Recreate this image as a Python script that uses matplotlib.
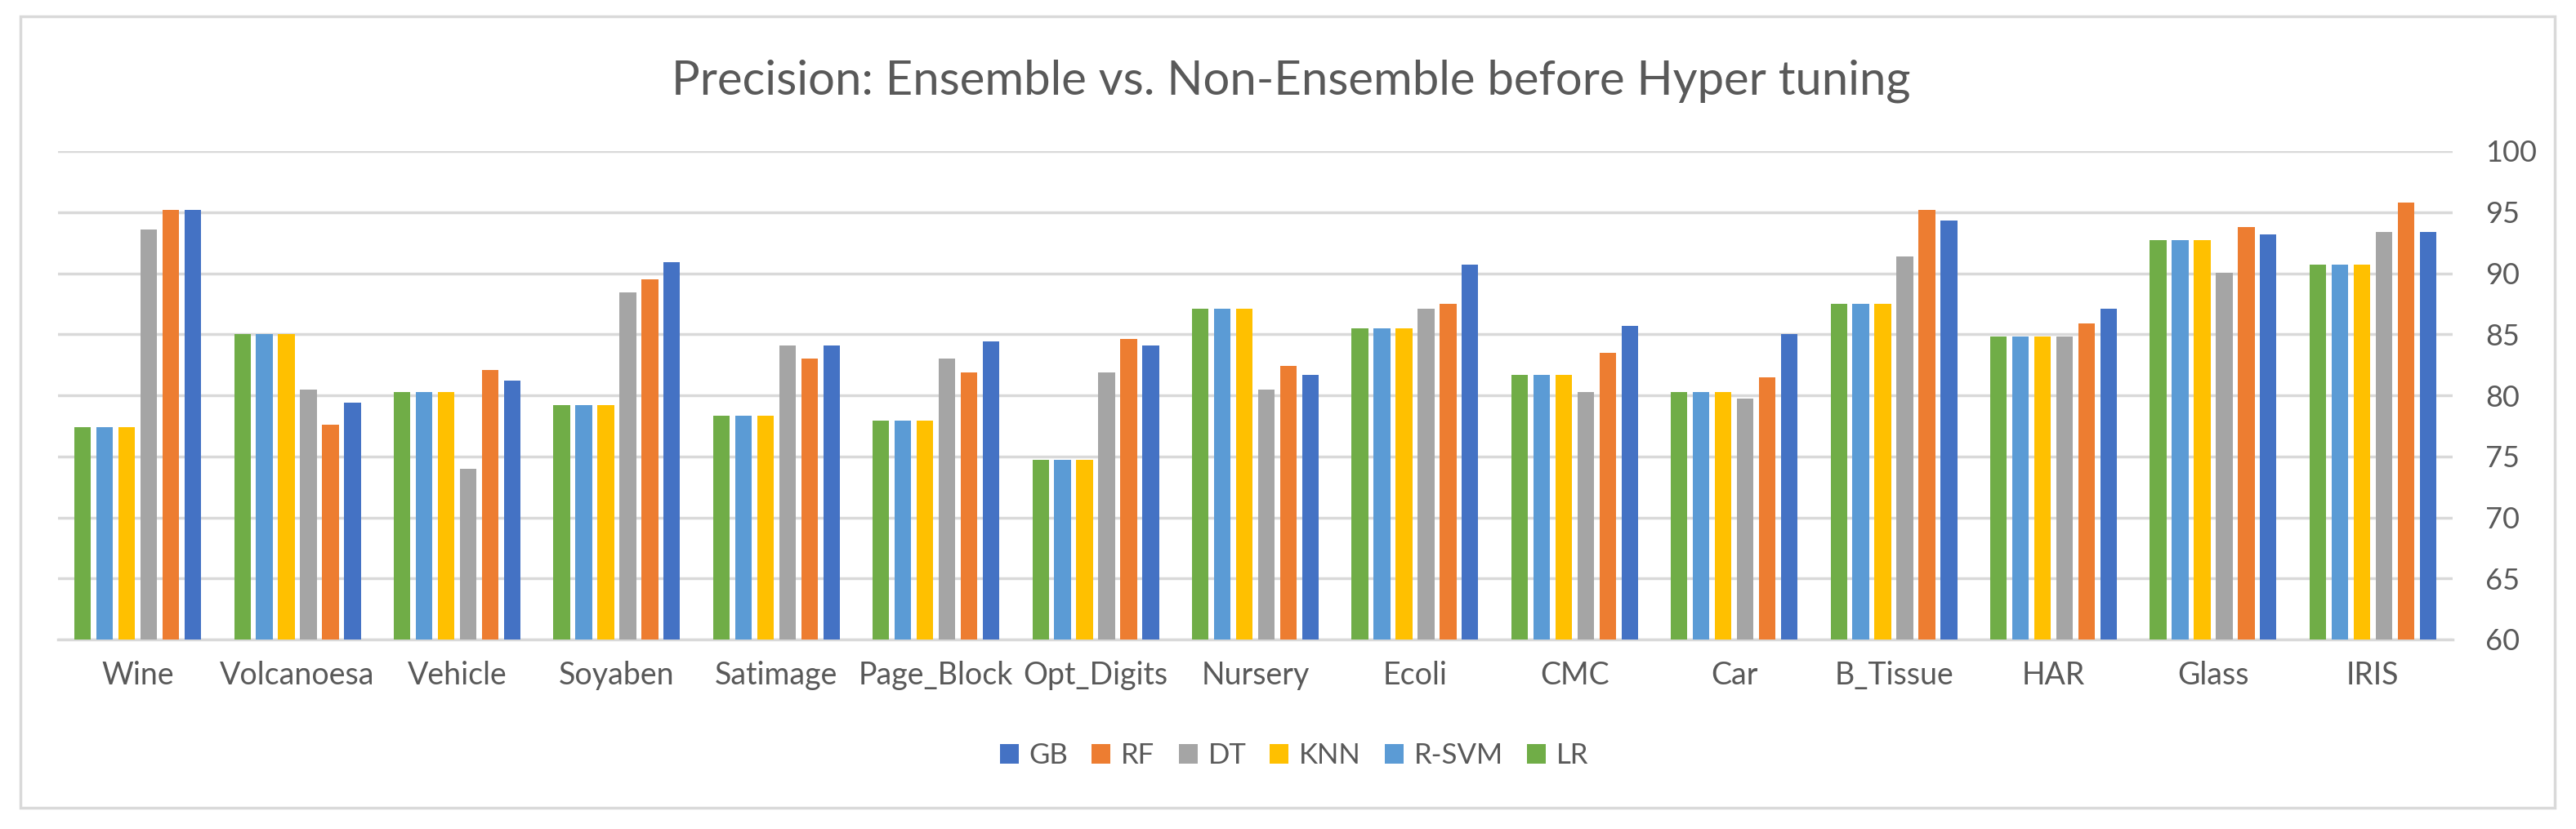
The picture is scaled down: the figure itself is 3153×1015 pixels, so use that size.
import numpy as np
import matplotlib.pyplot as plt
from matplotlib.patches import Rectangle

plt.rcParams["font.family"] = ["Lato", "DejaVu Sans"]

DATASETS = ["Wine", "Volcanoesa", "Vehicle", "Soyaben", "Satimage", "Page_Block",
            "Opt_Digits", "Nursery", "Ecoli", "CMC", "Car", "B_Tissue", "HAR",
            "Glass", "IRIS"]

LR = [77.4, 85.0, 80.3, 79.2, 78.3, 77.9, 74.7, 87.1, 85.5, 81.7, 80.3, 87.5, 84.8, 92.7, 90.7]
R_SVM = [77.4, 85.0, 80.3, 79.2, 78.3, 77.9, 74.7, 87.1, 85.5, 81.7, 80.3, 87.5, 84.8, 92.7, 90.7]
KNN = [77.4, 85.0, 80.3, 79.2, 78.3, 77.9, 74.7, 87.1, 85.5, 81.7, 80.3, 87.5, 84.8, 92.7, 90.7]
DT = [93.6, 80.5, 74.0, 88.4, 84.1, 83.0, 81.9, 80.5, 87.1, 80.3, 79.7, 91.4, 84.8, 90.0, 93.4]
RF = [95.2, 77.6, 82.1, 89.5, 83.0, 81.9, 84.6, 82.4, 87.5, 83.5, 81.5, 95.2, 85.9, 93.8, 95.8]
GB = [95.2, 79.4, 81.2, 90.9, 84.1, 84.4, 84.1, 81.7, 90.7, 85.7, 85.0, 94.3, 87.1, 93.2, 93.4]

SERIES = [("LR", LR, "#70AD47"), ("R-SVM", R_SVM, "#5B9BD5"), ("KNN", KNN, "#FFC000"),
          ("DT", DT, "#A5A5A5"), ("RF", RF, "#ED7D31"), ("GB", GB, "#4472C4")]

W, H = 3153, 1015
fig = plt.figure(figsize=(W / 100, H / 100), dpi=100)
ax = fig.add_axes([71 / W, 1 - 783 / H, (3002 - 71) / W, (783 - 185) / H])

x = np.arange(len(DATASETS))
step = 0.138
bar_w = 0.104
handles = {}
for i, (name, vals, color) in enumerate(SERIES):
    offset = (i - 2.5) * step
    bars = ax.bar(x + offset, np.array(vals) - 60, bottom=60, width=bar_w,
                  color=color, edgecolor="none", zorder=3)
    handles[name] = bars

ax.set_xlim(-0.5, len(DATASETS) - 0.5)
ax.set_ylim(60, 100)
ax.set_yticks(np.arange(60, 101, 5))
ax.yaxis.tick_right()
ax.tick_params(axis="y", length=0, pad=29, labelsize=26, labelcolor="#595959")
ax.tick_params(axis="x", length=0, pad=19, labelsize=27, labelcolor="#595959")
ax.set_xticks(x)
ax.set_xticklabels(DATASETS)
ax.grid(True, axis="y", color="#D9D9D9", linewidth=2.5, zorder=0)
for side in ["left", "right", "top"]:
    ax.spines[side].set_visible(False)
ax.spines["bottom"].set_color("#D9D9D9")
ax.spines["bottom"].set_linewidth(2.5)

fig.text(1580 / W, 1 - 116 / H, "Precision: Ensemble vs. Non-Ensemble before Hyper tuning",
         ha="center", va="baseline", fontsize=41.8, color="#595959")

order = ["GB", "RF", "DT", "KNN", "R-SVM", "LR"]
fig.legend([handles[n] for n in order], order, loc="center",
           bbox_to_anchor=(1584 / W, 1 - 925 / H), ncol=6, frameon=False,
           fontsize=25, handlelength=0.66, handleheight=0.66, handletextpad=0.37,
           columnspacing=0.84, labelcolor="#595959")

fig.patches.append(Rectangle((25 / W, 1 - 989 / H), (3127 - 25) / W, (989 - 20) / H,
                             transform=fig.transFigure, fill=False,
                             edgecolor="#D9D9D9", linewidth=2.5))

fig.savefig("out.png", dpi=100)
